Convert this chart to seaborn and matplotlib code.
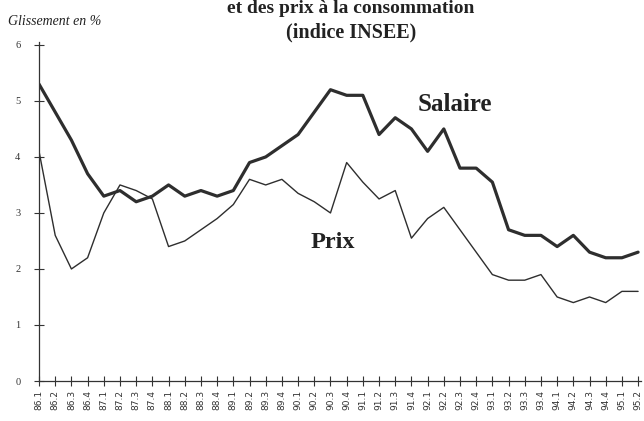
import numpy as np
import pandas as pd
import matplotlib
matplotlib.use('Agg')
import matplotlib.pyplot as plt
import seaborn as sns

# Quarters 86.1 .. 95.2
quarters = ['86.1', '86.2', '86.3', '86.4', '87.1', '87.2', '87.3', '87.4',
            '88.1', '88.2', '88.3', '88.4', '89.1', '89.2', '89.3', '89.4',
            '90.1', '90.2', '90.3', '90.4', '91.1', '91.2', '91.3', '91.4',
            '92.1', '92.2', '92.3', '92.4', '93.1', '93.2', '93.3', '93.4',
            '94.1', '94.2', '94.3', '94.4', '95.1', '95.2']

# Glissement annuel en %
salaire = [5.3, 4.8, 4.3, 3.7, 3.3, 3.4, 3.2, 3.3, 3.5, 3.3, 3.4, 3.3, 3.4,
           3.9, 4.0, 4.2, 4.4, 4.8, 5.2, 5.1, 5.1, 4.4, 4.7, 4.5, 4.1, 4.5,
           3.8, 3.8, 3.55, 2.7, 2.6, 2.6, 2.4, 2.6, 2.3, 2.2, 2.2, 2.3]
prix = [4.1, 2.6, 2.0, 2.2, 3.0, 3.5, 3.4, 3.25, 2.4, 2.5, 2.7, 2.9, 3.15,
        3.6, 3.5, 3.6, 3.35, 3.2, 3.0, 3.9, 3.55, 3.25, 3.4, 2.55, 2.9, 3.1,
        2.7, 2.3, 1.9, 1.8, 1.8, 1.9, 1.5, 1.4, 1.5, 1.4, 1.6, 1.6]

df = pd.DataFrame({'idx': np.arange(len(quarters)),
                   'Salaire': salaire, 'Prix': prix})

sns.set_style('white')
plt.rcParams['font.family'] = ['DejaVu Sans']

fig = plt.figure(figsize=(6.44, 4.21), dpi=100)
ax = fig.add_axes([0.0606, 0.095, 0.934, 0.805])

line_col = '#2e2e2e'
sns.lineplot(data=df, x='idx', y='Salaire', ax=ax, color=line_col, linewidth=2.3)
sns.lineplot(data=df, x='idx', y='Prix', ax=ax, color=line_col, linewidth=1.0)

ax.set_xlim(0, 37.15)
ax.set_ylim(0, 6.05)
ax.set_xticks(df['idx'])
ax.set_xticklabels(quarters, rotation=90, fontsize=6.5, color='#333333')
ax.set_yticks(range(0, 7))
ax.set_yticklabels([str(v) for v in range(0, 7)], fontsize=7.5, color='#333333',
                   family='Liberation Serif')
ax.tick_params(axis='both', direction='inout', length=7, width=0.8,
               color='#333333', bottom=True, left=True)
ax.tick_params(axis='y', pad=10)
ax.tick_params(axis='x', pad=3)
ax.set_xlabel('')
ax.set_ylabel('')
for s in ['top', 'right']:
    ax.spines[s].set_visible(False)
for s in ['left', 'bottom']:
    ax.spines[s].set_color('#333333')
    ax.spines[s].set_linewidth(0.9)

# Series labels
fig.text(0.707, 0.751, 'Salaire', fontsize=18, fontweight='bold',
         family='Liberation Serif', color='#222222', ha='center', va='center')
fig.text(0.517, 0.425, 'Prix', fontsize=17.5, fontweight='bold',
         family='Liberation Serif', color='#222222', ha='center', va='center')
# The y axis annotation and the title
fig.text(0.0125, 0.948, 'Glissement en %', fontsize=10, style='italic',
         family='Liberation Serif', color='#222222', ha='left', va='center')
fig.text(0.545, 1.0, 'et des prix à la consommation', fontsize=14,
         fontweight='bold', family='Liberation Serif', color='#222222',
         ha='center', va='top')
fig.text(0.545, 0.924, '(indice INSEE)', fontsize=14.5, fontweight='bold',
         family='Liberation Serif', color='#222222', ha='center', va='center')

fig.savefig('out.png', dpi=100)
